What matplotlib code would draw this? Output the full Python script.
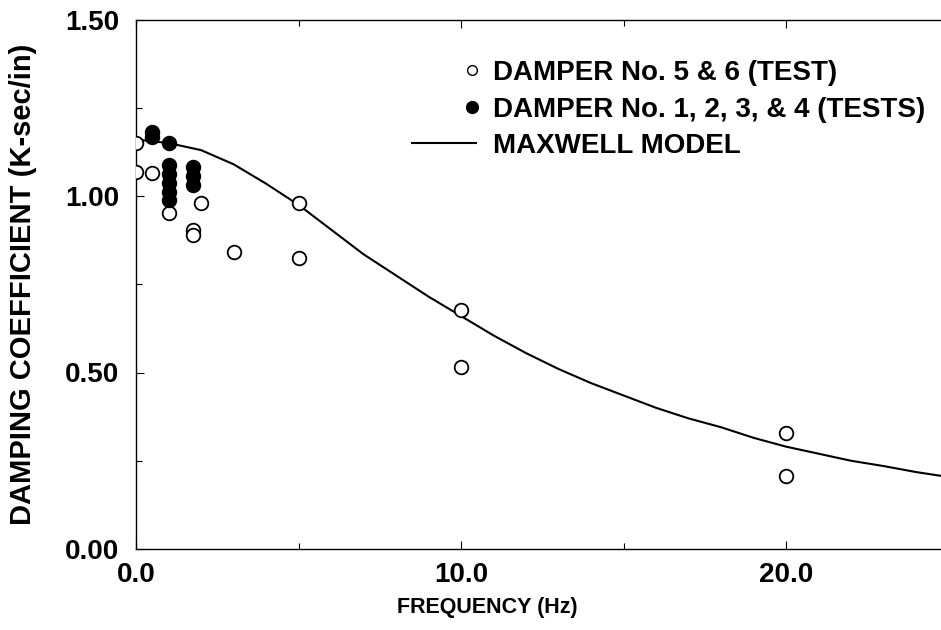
import matplotlib
matplotlib.use("Agg")
import numpy as np
import matplotlib.pyplot as plt
from matplotlib.ticker import MultipleLocator, FormatStrFormatter
from matplotlib.lines import Line2D
from matplotlib.legend_handler import HandlerLine2D

plt.rcParams['font.family'] = ['Liberation Sans', 'DejaVu Sans']
plt.rcParams['font.weight'] = 'bold'

# ------------------------------------------------------------------
# data
# ------------------------------------------------------------------
# DAMPER No. 5 & 6 (open circles)
open_freq = [0.0, 0.0, 0.5, 1.0, 1.75, 1.75, 2.0, 3.0, 5.0, 5.0, 10.0, 10.0, 20.0, 20.0]
open_damp = [1.151, 1.069, 1.064, 0.951, 0.905, 0.89, 0.979, 0.842, 0.979, 0.823, 0.677, 0.516, 0.329, 0.207]

# DAMPER No. 1, 2, 3, & 4 (filled circles)
filled_freq = [0.5, 0.5, 1.0, 1.0, 1.0, 1.0, 1.0, 1.0, 1.75, 1.75, 1.75]
filled_damp = [1.18, 1.168, 1.149, 1.088, 1.062, 1.037, 1.012, 0.99, 1.083, 1.057, 1.031]

# Maxwell model curve
model_freq = list(range(0, 26))
model_damp = [1.16, 1.15, 1.13, 1.09, 1.035, 0.975, 0.905, 0.835, 0.775, 0.715, 0.66,
              0.605, 0.555, 0.51, 0.47, 0.435, 0.40, 0.37, 0.345, 0.315, 0.29,
              0.27, 0.25, 0.235, 0.218, 0.204]


class RightMarkerHandler(HandlerLine2D):
    """one legend marker drawn at the right end of the handle box"""
    def get_xdata(self, legend, xdescent, ydescent, width, height, fontsize):
        xr = np.array([-xdescent + width - 0.15 * fontsize])
        return xr, xr


fig = plt.figure(figsize=(9.41, 6.30), dpi=100)
# right edge (25 Hz) falls just outside the picture, as in the scan
ax = fig.add_axes([136 / 941, 81 / 630, 812.5 / 941, 529.5 / 630])

ax.plot(model_freq, model_damp, color='black', lw=1.5, zorder=2)
ax.plot(open_freq, open_damp, 'o', ms=9.8, mfc='white', mec='black', mew=1.3, zorder=3)
ax.plot(filled_freq, filled_damp, 'o', ms=9.8, mfc='black', mec='black', mew=1.3, zorder=4)

ax.set_xlim(0, 25)
ax.set_ylim(0, 1.5)
ax.xaxis.set_major_locator(MultipleLocator(10))
ax.xaxis.set_minor_locator(MultipleLocator(5))
ax.yaxis.set_major_locator(MultipleLocator(0.5))
ax.yaxis.set_minor_locator(MultipleLocator(0.25))
ax.xaxis.set_major_formatter(FormatStrFormatter('%.1f'))
ax.yaxis.set_major_formatter(FormatStrFormatter('%.2f'))

ax.tick_params(which='both', direction='in', top=True, right=False, width=0.8)
ax.tick_params(which='major', length=6, labelsize=20, pad=12)
ax.tick_params(which='minor', length=4)
ax.tick_params(axis='x', which='major', pad=9)
for s in ax.spines.values():
    s.set_linewidth(1.0)
ax.spines['right'].set_visible(False)

ax.set_xlabel('FREQUENCY (Hz)', fontsize=15.5, fontweight='bold')
ax.xaxis.set_label_coords((487 - 136) / 812.5, -0.09)
ax.set_ylabel('DAMPING COEFFICIENT (K-sec/in)', fontsize=21, fontweight='bold')
ax.yaxis.set_label_coords(-0.122, 0.5)

open_h = Line2D([], [], ls='none', marker='o', ms=7, mfc='white', mec='black', mew=1.0)
filled_h = Line2D([], [], ls='none', marker='o', ms=8.5, mfc='black', mec='black')
model_h = Line2D([], [], color='black', lw=1.5)
labels = ['DAMPER No. 5 & 6 (TEST)', 'DAMPER No. 1, 2, 3, & 4 (TESTS)', 'MAXWELL MODEL']
leg = ax.legend([open_h, filled_h, model_h], labels, loc='upper left',
                handler_map={open_h: RightMarkerHandler(numpoints=2),
                             filled_h: RightMarkerHandler(numpoints=2)},
                bbox_to_anchor=((412 - 136) / 812.5, (549 - 60) / 529.5),
                frameon=False, fontsize=20, handlelength=2.3, handletextpad=0.6,
                labelspacing=0.38, borderpad=0, borderaxespad=0)

fig.savefig('out.png', dpi=100)
